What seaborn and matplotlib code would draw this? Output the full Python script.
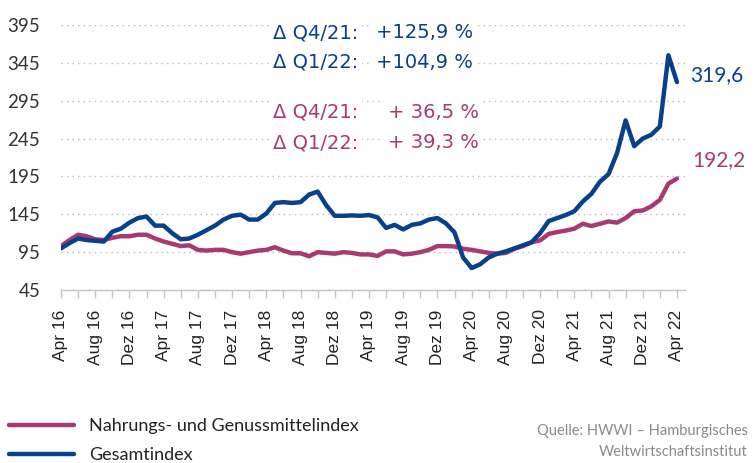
import numpy as np
import pandas as pd
import matplotlib as mpl
import matplotlib.pyplot as plt
import seaborn as sns

# monthly values Apr 16 .. Apr 22
gesamt = [100, 107, 113, 111, 110, 109, 122, 126, 134, 140, 142, 130, 130,
          120, 112, 113, 118, 124, 130, 138, 143, 144.5, 138, 138, 146,
          160, 161, 160, 161, 171, 175, 157, 143, 143, 143.5, 143, 144,
          141, 127, 131, 125, 131, 133, 138, 140, 133, 121, 88, 74,
          79, 88, 93, 96, 100, 104, 108, 120, 136, 140, 144, 149,
          162, 172, 188, 198, 226, 269, 235, 245, 250, 261, 355, 319.6]
nahrung = [103, 111, 118, 116, 112, 111, 114, 116, 116, 118, 118, 113, 109,
           106, 103, 104, 98, 97, 98, 98, 95, 93, 95, 97, 98,
           101.5, 97, 93.5, 93.5, 89.5, 95, 94, 93, 95, 94, 92, 92,
           90, 96, 96, 92, 93, 95, 98, 103, 103, 102.5, 99.5, 98,
           96, 94, 93, 94, 99.5, 103, 108, 110.5, 119, 121.5, 123.5, 126,
           132.5, 129.5, 132.5, 135.5, 134, 140, 149, 150, 155.5, 164, 185.5, 192.2]
tick_labels = ['Apr 16', 'Aug 16', 'Dez 16', 'Apr 17', 'Aug 17', 'Dez 17',
               'Apr 18', 'Aug 18', 'Dez 18', 'Apr 19', 'Aug 19', 'Dez 19',
               'Apr 20', 'Aug 20', 'Dez 20', 'Apr 21', 'Aug 21', 'Dez 21', 'Apr 22']
y_ticks = [45, 95, 145, 195, 245, 295, 345, 395]
serien = ['Nahrungs- und Genussmittelindex', 'Gesamtindex']
delta_labels = ['Δ Q4/21:', 'Δ Q1/22:', 'Δ Q4/21:', 'Δ Q1/22:']
delta_values = ['+125,9 %', '+104,9 %', '+ 36,5 %', '+ 39,3 %']

blue = '#07408c'
pink = '#a93a70'

df = pd.DataFrame({'monat': np.arange(len(gesamt)),
                   serien[0]: nahrung, serien[1]: gesamt})
df = df.melt(id_vars='monat', var_name='serie', value_name='wert')

sns.set_theme(style='white')
plt.rcParams['font.family'] = ['Lato', 'DejaVu Sans']

W, H = 755, 463
fig = plt.figure(figsize=(W / 100, H / 100), dpi=100)
ax = fig.add_axes([61 / W, 1 - 290 / H, (685 - 61) / W, (290 - 25) / H])

sns.lineplot(data=df, x='monat', y='wert', hue='serie', hue_order=serien,
             palette=[pink, blue], linewidth=3.2, ax=ax,
             solid_capstyle='round', solid_joinstyle='round')

ax.set_xlim(0, 72.94)
ax.set_ylim(45, 395)
ax.set_xlabel('')
ax.set_ylabel('')
ax.set_yticks(y_ticks)
ax.set_yticklabels([str(v) for v in y_ticks])
ax.set_xticks(range(0, 73, 4))
ax.set_xticklabels(tick_labels, rotation=90, fontfamily='Liberation Sans', fontsize=12.5)
ax.set_xticks(range(2, 73, 4), minor=True)
ax.tick_params(axis='x', which='both', length=6, color='#c4c4c4', width=1,
               pad=8, labelcolor='#222222', bottom=True)
ax.tick_params(axis='y', length=0, pad=15, labelsize=13.5, labelcolor='#333333')
for s in ['top', 'right', 'left']:
    ax.spines[s].set_visible(False)
ax.spines['bottom'].set_color('#c4c4c4')
ax.spines['bottom'].set_linewidth(1)
ax.yaxis.grid(True, linestyle=(0, (1, 3)), color='#b8b8b8', linewidth=1)
ax.set_axisbelow(True)

handles, labels = ax.get_legend_handles_labels()
ax.get_legend().remove()
fig.legend(handles, labels, loc='upper left', bbox_to_anchor=(2 / W, 1 - 411 / H),
           frameon=False, handlelength=3.6, handletextpad=0.8, fontsize=13,
           labelspacing=0.7, borderaxespad=0, labelcolor='#222222')

def fx(x):
    return x / W

def fy(y):
    return 1 - y / H

rows_y = [33, 62, 112, 143]
value_right = [473, 473, 479, 479]
row_colors = [blue, blue, pink, pink]
for lab, val, yy, xr, c in zip(delta_labels, delta_values, rows_y, value_right, row_colors):
    fig.text(fx(273), fy(yy), lab, color=c, fontsize=14, ha='left', va='center',
             family='DejaVu Sans', bbox=dict(fc='white', ec='none', pad=3))
    fig.text(fx(xr), fy(yy), val, color=c, fontsize=14, ha='right', va='center',
             family='DejaVu Sans', bbox=dict(fc='white', ec='none', pad=3))

fig.text(fx(690), fy(75), '319,6', color=blue, fontsize=15, ha='left', va='center')
fig.text(fx(692), fy(160), '192,2', color=pink, fontsize=15, ha='left', va='center')

fig.text(fx(748), fy(431), 'Quelle: HWWI – Hamburgisches', color='#8a8a8a',
         fontsize=10.5, ha='right', va='center')
fig.text(fx(748), fy(452), 'Weltwirtschaftsinstitut', color='#8a8a8a',
         fontsize=10.5, ha='right', va='center')

fig.savefig('out.png', dpi=100)
